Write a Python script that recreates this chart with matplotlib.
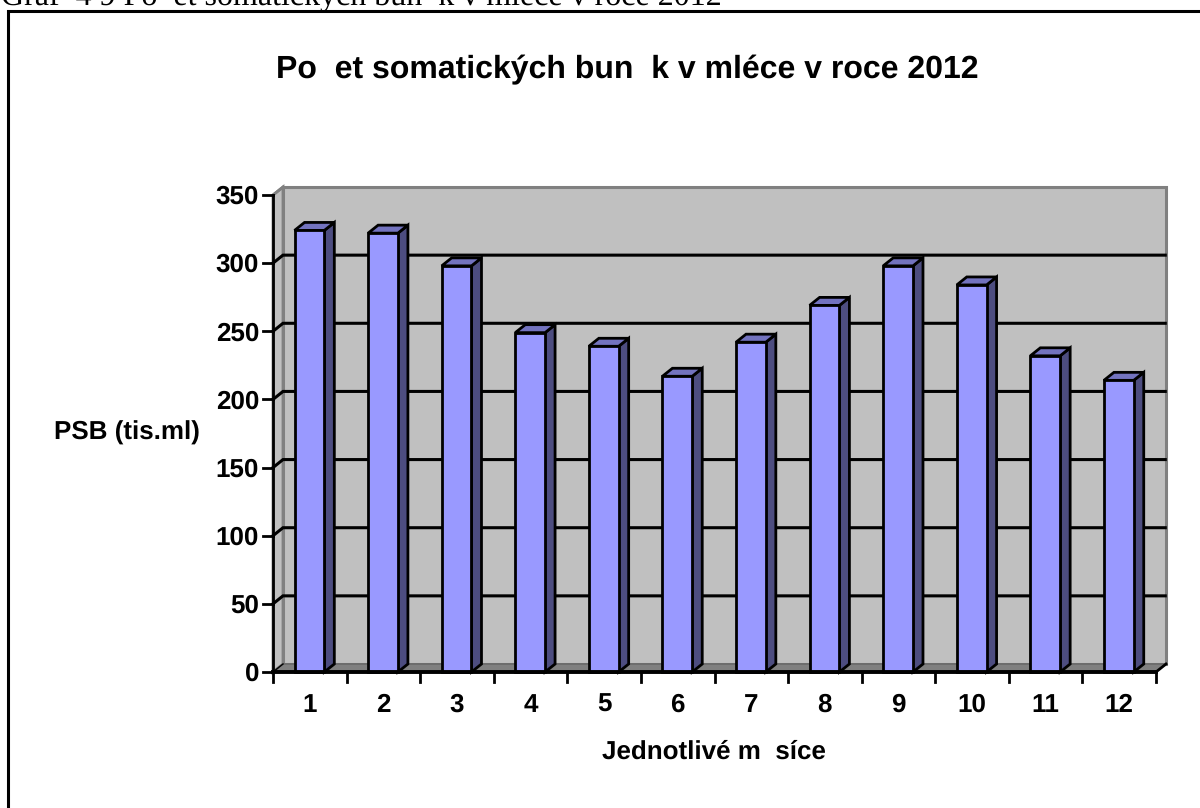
import matplotlib
matplotlib.use("Agg")
import matplotlib.pyplot as plt
from matplotlib.patches import Polygon
from matplotlib.lines import Line2D

months = [str(m) for m in range(1, 13)]
psb_values = [324, 322, 298, 249, 239, 217, 242, 269, 298, 284, 232, 214]
y_ticks = [0, 50, 100, 150, 200, 250, 300, 350]

WIDTH, HEIGHT = 1200, 808
plt.rcParams["font.family"] = ["Liberation Sans", "DejaVu Sans"]
plt.rcParams["text.hinting"] = "no_hinting"
plt.rcParams["text.hinting_factor"] = 1

fig = plt.figure(figsize=(WIDTH / 100, HEIGHT / 100), dpi=100)
ax = fig.add_axes([273 / WIDTH, 1 - 672 / HEIGHT, (1156 - 273) / WIDTH, (672 - 195) / HEIGHT])
ax.set_xlim(0, 12)
ax.set_ylim(0, 350)
ax.axis("off")

# depth of the pseudo 3D box, in data units
DX = 10 * 12 / (1156 - 273)
DY = 8 * 350 / (672 - 195)
BAR_W = 0.405

WALL = "#c0c0c0"
FLOOR = "#808080"
EDGE_GREY = "#808080"
FRONT = "#9999ff"
TOP = "#7373bf"
SIDE = "#4d4d80"


def poly(points, face, edge="black", lw=2.0, z=1):
    ax.add_patch(Polygon(points, closed=True, facecolor=face, edgecolor=edge,
                         linewidth=lw, zorder=z, clip_on=False, joinstyle="miter"))


# back wall, side wall and floor
poly([(DX, DY), (12 + DX, DY), (12 + DX, 350 + DY), (DX, 350 + DY)], WALL, EDGE_GREY, 2.2, 1)
poly([(0, 0), (DX, DY), (DX, 350 + DY), (0, 350)], WALL, EDGE_GREY, 2.0, 1)
poly([(0, 0), (12, 0), (12 + DX, DY), (DX, DY)], FLOOR, "#666666", 1.0, 1)

# gridlines along the back wall, with the slanted part on the side wall
for v in y_ticks[1:-1]:
    ax.plot([0, DX, 12 + DX - 0.01], [v, v + DY, v + DY], color="black", lw=2.2,
            zorder=2, clip_on=False, solid_joinstyle="miter")
ax.plot([0, DX], [350, 350 + DY], color=EDGE_GREY, lw=2, zorder=2, clip_on=False)

# bars: front, top and side faces
for i, value in enumerate(psb_values):
    x0 = i + 0.5 - BAR_W / 2 - 0.005
    x1 = x0 + BAR_W
    poly([(x1, 0), (x1 + DX, DY), (x1 + DX, value + DY), (x1, value)], SIDE, z=3)
    poly([(x0, value), (x1, value), (x1 + DX, value + DY), (x0 + DX, value + DY)], TOP, z=3)
    poly([(x0, 0), (x1, 0), (x1, value), (x0, value)], FRONT, z=4)

# front axes with outward ticks
ax.plot([0, 0], [0, 350], color="black", lw=2, zorder=5, clip_on=False)
ax.plot([0, 12], [0, 0], color="black", lw=2.8, zorder=5, clip_on=False)
ax.plot([12, 12 + DX], [0, DY], color="black", lw=2, zorder=5, clip_on=False)
ax.plot([0, DX], [0, DY], color="black", lw=1.0, zorder=2, clip_on=False)

TICK_X = 10 * 12 / (1156 - 273)
TICK_Y = 10 * 350 / (672 - 195)
for v in y_ticks:
    ax.plot([-TICK_X, 0], [v, v], color="black", lw=2, zorder=5, clip_on=False)
    ax.annotate(str(v), (0, v), xytext=(-14, -9), textcoords="offset pixels",
                ha="right", va="baseline", fontsize=19, fontweight="bold")
for k in range(13):
    ax.plot([k, k], [-TICK_Y, 0], color="black", lw=2, zorder=5, clip_on=False)
for i, label in enumerate(months):
    ax.annotate(label, (i + 0.5, 0), xytext=(0, -40), textcoords="offset pixels",
                ha="center", va="baseline", fontsize=19, fontweight="bold")


# chart texts in figure pixel coordinates
def px_text(x, y, s, **kw):
    fig.text(x / WIDTH, 1 - y / HEIGHT, s, **kw)


px_text(627, 78, "Po  et somatických bun  k v mléce v roce 2012", ha="center", va="baseline",
        fontsize=23, fontweight="bold")
px_text(127, 440, "PSB (tis.ml)", ha="center", va="baseline", fontsize=19, fontweight="bold")
px_text(714, 759, "Jednotlivé m  síce", ha="center", va="baseline", fontsize=19, fontweight="bold")

# caption cut off by the top of the image
px_text(1, 5, "Graf  4 9 Po  et somatických bun  k v mléce v roce 2012", ha="left", va="baseline",
        fontsize=23, family="Liberation Serif")

# frame around the chart area
fig.add_artist(Line2D([7.5 / WIDTH, 7.5 / WIDTH, 1], [0, 1 - 10.5 / HEIGHT, 1 - 10.5 / HEIGHT],
                      color="black", lw=2.2, solid_joinstyle="miter"))

fig.savefig("out.png", dpi=100, facecolor="white")
